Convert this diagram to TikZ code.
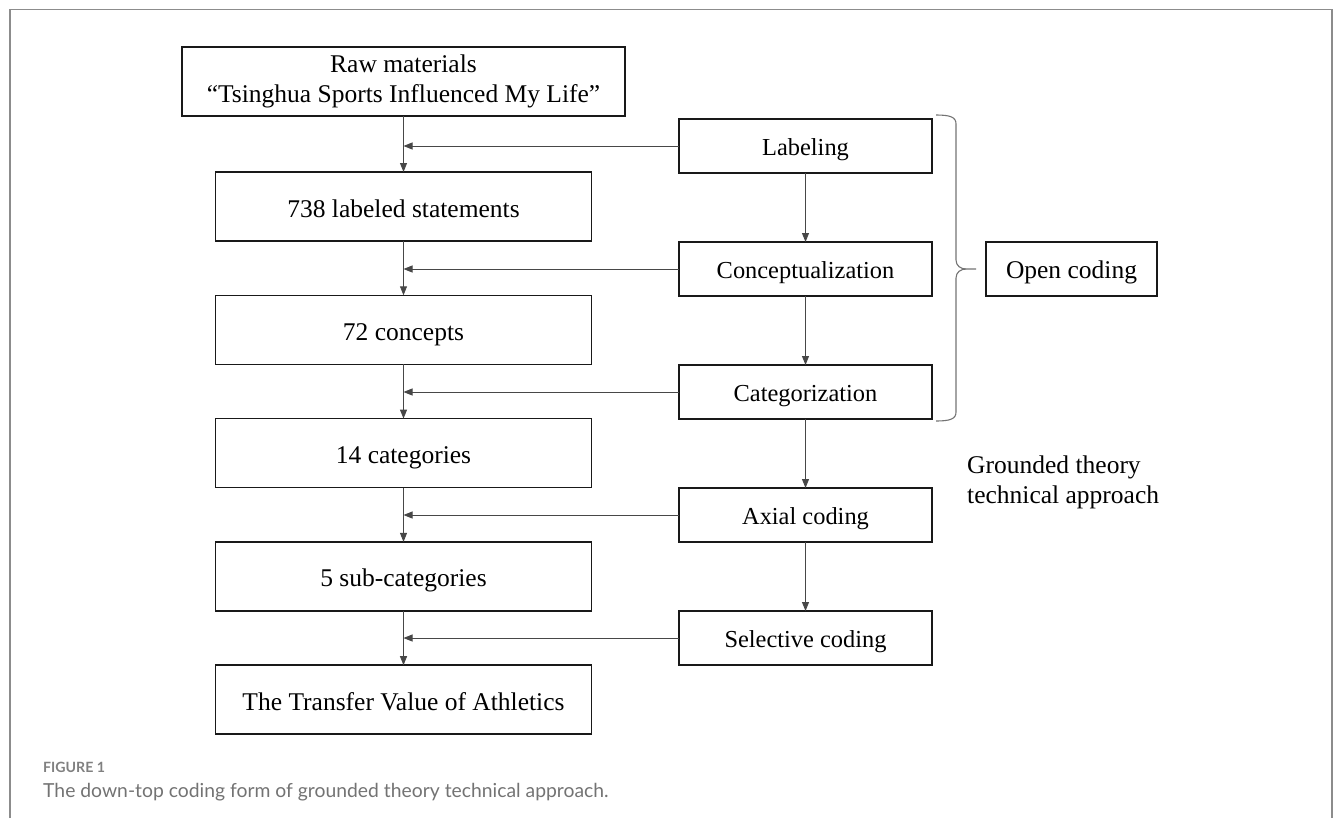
\documentclass[tikz,border=0pt]{standalone}
\usepackage{fontspec}
\setmainfont{Liberation Serif}
\newfontfamily\capfont{Lato}
\usetikzlibrary{positioning,arrows.meta}

\begin{document}
\begin{tikzpicture}[x = 1bp, y = -1bp,
  box/.style = {draw = black!90, line width = 1.6bp, shape = rectangle, inner sep = 0pt, outer sep = 0pt, align = center},
  leftbox/.style = {box, minimum width = 376bp, minimum height = 69bp, font = \fontsize{25.6}{30}\selectfont},
  rightbox/.style = {box, minimum width = 253bp, minimum height = 54bp, font = \fontsize{24.5}{29}\selectfont},
  leftrow/.style = {text height = 23bp, text depth = 2bp},
  rightrow/.style = {text height = 20bp, text depth = 2bp},
  flow/.style = {draw = black!72, line width = 0.9bp, -{Triangle[length = 9bp, width = 7bp]}},
  bracegray/.style = {draw = black!55, line width = 1.1bp}]

\useasboundingbox (0,0) rectangle (1333,818);
\draw[black!45, line width = 1.3bp] (10,818) |- (1332,9.5) -- (1332,818);

\node[leftbox, minimum width = 443bp] (raw) at (403.5,81.5) {Raw materials\\“Tsinghua Sports Influenced My Life”};
\node[leftbox, leftrow, below = 56bp of raw] (stmt) {738 labeled statements};
\node[leftbox, leftrow, below = 54.3bp of stmt] (conc) {72 concepts};
\node[leftbox, leftrow, below = 54.3bp of conc] (cats) {14 categories};
\node[leftbox, leftrow, below = 54.3bp of cats] (subs) {5 sub-categories};
\node[leftbox, leftrow, below = 54.3bp of subs] (tv) {The Transfer Value of Athletics};

\node[rightbox, rightrow] (lab) at (805.5,146) {Labeling};
\node[rightbox, rightrow, below = 69bp of lab] (con) {Conceptualization};
\node[rightbox, rightrow, below = 69bp of con] (cat) {Categorization};
\node[rightbox, rightrow, below = 69bp of cat] (axi) {Axial coding};
\node[rightbox, rightrow, below = 69bp of axi] (sel) {Selective coding};

\node[rightbox, rightrow, minimum width = 171bp, right = 54bp of con, font = \fontsize{25.6}{30}\selectfont] (open) {Open coding};
\node[anchor = base west, inner sep = 0pt, align = left, font = \fontsize{25.6}{30}\selectfont] (gt)
  at ([xshift = 35bp, yshift = -15bp]axi.north east) {Grounded theory\\technical approach};

\foreach \a/\b in {raw/stmt, stmt/conc, conc/cats, cats/subs, subs/tv}
  \draw[flow] (\a.south) -- (\b.north);
\foreach \a/\b in {lab/con, con/cat, cat/axi, axi/sel}
  \draw[flow] (\a.south) -- (\b.north);
\foreach \a/\b in {lab/raw, con/stmt, cat/conc, axi/cats, sel/subs}
  \draw[flow] (\a.west) -- (\a.west -| \b.south);

\coordinate (bt) at ([xshift = 4bp, yshift = 4bp]lab.north east);
\coordinate (bb) at ([xshift = 4bp, yshift = -2bp]cat.south east);
\coordinate (bm) at ([xshift = 44bp]con.east);
\draw[bracegray] (bt) .. controls +(14,0) and +(0,-7) .. ++(20,9)
  -- ([xshift = -20bp, yshift = 9bp]bm) .. controls +(0,6) and +(-5,0) .. ++(10,9) -- (bm);
\draw[bracegray] ([xshift = -10bp]bm) .. controls +(-5,0) and +(0,-6) .. ++(-10,9)
  -- ([xshift = 20bp, yshift = 9bp]bb) .. controls +(0,7) and +(14,0) .. (bb);

\node[anchor = base west, inner sep = 0pt, text = black!50, font = \capfont\bfseries\fontsize{14.2}{16}\selectfont] (fig) at (43,772) {FIGURE 1};
\node[anchor = base west, inner sep = 0pt, text = black!55, font = \capfont\fontsize{19.4}{22}\selectfont] (cap) at (43,797) {The down-top coding form of grounded theory technical approach.};
\end{tikzpicture}
\end{document}
